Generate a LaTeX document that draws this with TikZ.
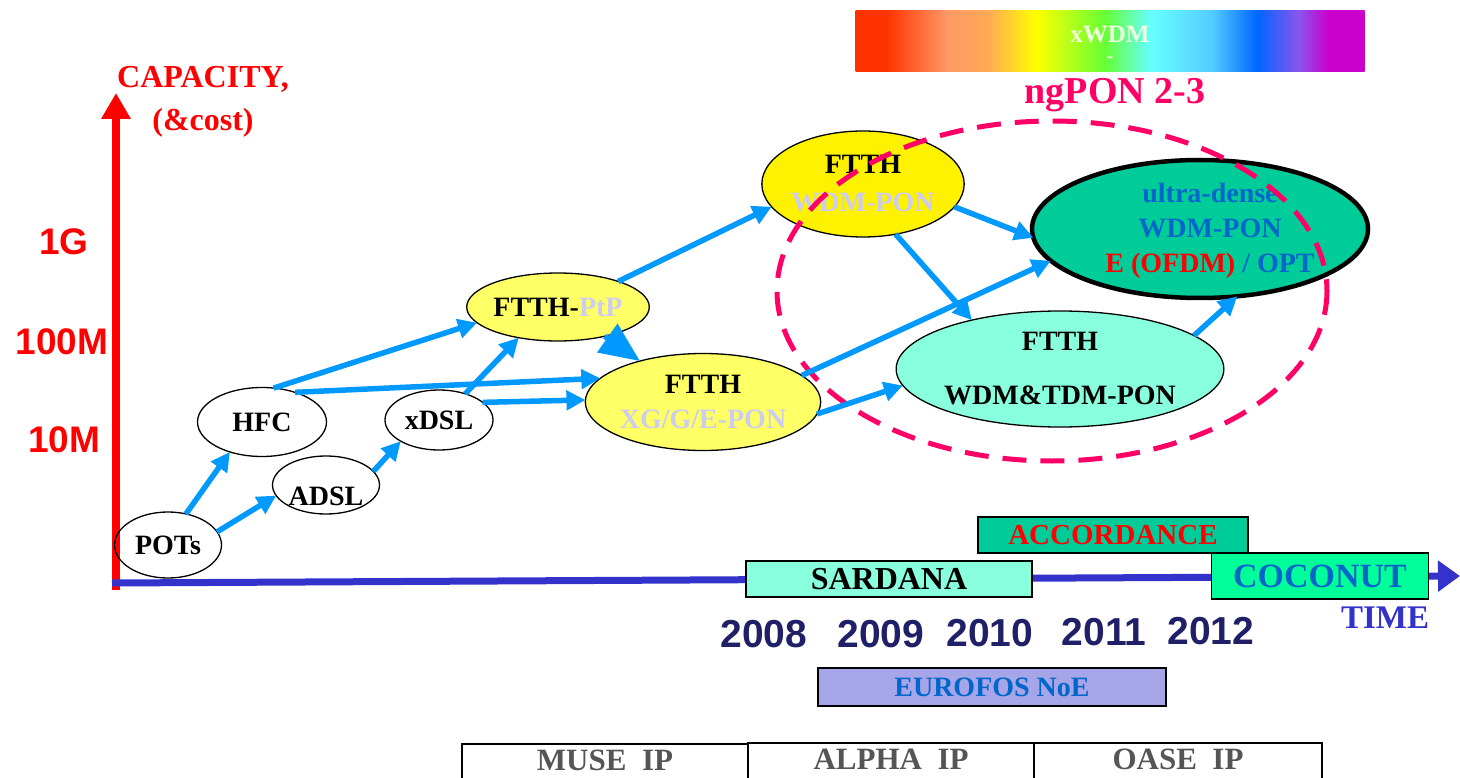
\documentclass[tikz,border=0pt]{standalone}
\usepackage{fontspec}
\setmainfont{Liberation Serif}
\newfontfamily\arialfont{Liberation Sans}
\usepackage{xcolor}
\usetikzlibrary{shapes.geometric,arrows.meta}

\definecolor{capred}{HTML}{FF0000}
\definecolor{timeblue}{HTML}{3333CC}
\definecolor{flowblue}{HTML}{0099FF}
\definecolor{lav}{HTML}{CCCCF0}
\definecolor{paleyellow}{HTML}{FFFF66}
\definecolor{aqua}{HTML}{88FFDD}
\definecolor{seagreen}{HTML}{00CC99}
\definecolor{springgreen}{HTML}{00FF99}
\definecolor{udblue}{HTML}{0066CC}
\definecolor{ngpink}{HTML}{FF0066}
\definecolor{eurofill}{HTML}{A5A5E8}
\definecolor{yearnavy}{HTML}{202068}
\definecolor{textgray}{HTML}{555555}
\definecolor{xwdmtext}{HTML}{EEFFE0}
% spectrum of the xWDM bar
\definecolor{wred}{HTML}{FF3300}
\definecolor{wsalmon}{HTML}{FF9966}
\definecolor{worange}{HTML}{FFAA55}
\definecolor{wyellow}{HTML}{FFFF00}
\definecolor{wgreen}{HTML}{66FF33}
\definecolor{wcyan}{HTML}{66FFFF}
\definecolor{wsky}{HTML}{55CCFF}
\definecolor{wblue}{HTML}{0066FF}
\definecolor{wviolet}{HTML}{8855EE}
\definecolor{wmagenta}{HTML}{CC00CC}
\pgfdeclarehorizontalshading{xwdmshade}{100bp}{color(0bp)=(wred); color(25bp)=(wred); color(28bp)=(wred); color(34bp)=(wsalmon); color(38bp)=(worange); color(42.75bp)=(wyellow); color(49.5bp)=(wgreen); color(54bp)=(wcyan); color(60bp)=(wsky); color(64.5bp)=(wblue); color(68.5bp)=(wviolet); color(71.5bp)=(wmagenta); color(100bp)=(wmagenta)}

\newcommand\techfont{\fontsize{28}{35}\selectfont\bfseries}

\begin{document}
\begin{tikzpicture}[x=1pt, y=-1pt,
    tech/.style={ellipse, draw, line width=1.3pt, inner sep=0pt, outer sep=0pt, align=center, font=\techfont},
    flow/.style={-{Triangle[length=19pt, width=19pt]}, line width=5.5pt, draw=flowblue},
    project/.style={rectangle, draw, line width=1.6pt, inner sep=0pt, font=\bfseries\fontsize{#1}{#1}\selectfont},
    axislabel/.style={text=capred, font=\arialfont\bfseries\fontsize{37}{37}\selectfont},
    year/.style={text=yearnavy, font=\arialfont\bfseries\fontsize{39}{39}\selectfont}
]
\useasboundingbox (0,0) rectangle (1460,778);
\clip (0,0) rectangle (1460,778);

% Axes
\coordinate (capbase) at (116,590);
\coordinate (captip) at (116,93);
\coordinate (timebase) at (112,583);
\coordinate (timetip) at (1460,576);
\draw[capred, line width=8pt, -{Triangle[length=26pt, width=28pt]}] (capbase) -- (captip);
\draw[timeblue, line width=7pt, -{Triangle[length=22pt, width=30pt]}] (timebase) -- (timetip);

\node[text=capred, font=\bfseries\fontsize{32}{43}\selectfont, align=center] (capacity) at (203,102) {CAPACITY,\\(\&cost)};
\node[axislabel] (l1g) at (64,242) {1G};
\node[axislabel] (l100m) at (62,342) {100M};
\node[axislabel] (l10m) at (64,440) {10M};

% xWDM band
\node[shade, shading=xwdmshade, minimum width=509pt, minimum height=61pt, inner sep=0pt,
      label={[text=xwdmtext, font=\bfseries\fontsize{25}{25}\selectfont, align=center, yshift=-3pt]center:xWDM\\[-5pt]{\fontsize{20}{20}\selectfont -}}] (xwdm) at (1110,41.5) {};
\node[text=ngpink, font=\bfseries\fontsize{38}{38}\selectfont] (ngpon) at (1115,95) {ngPON 2-3};

% Technologies
\node[tech, minimum width=107pt, minimum height=66pt] (pots) at (168,545) {POTs};
\node[tech, minimum width=129pt, minimum height=69pt] (hfc) at (262,422) {HFC};
\node[tech, minimum width=107pt, minimum height=58pt, label={[font=\techfont, yshift=-11pt]center:ADSL}] (adsl) at (326,485) {};
\node[tech, minimum width=108pt, minimum height=60pt] (xdsl) at (439,420) {xDSL};
\node[tech, fill=paleyellow, minimum width=170pt, minimum height=68pt] (ptp) at (558,307) {FTTH-\textcolor{lav}{PtP}};
\node[tech, fill=paleyellow, minimum width=231pt, minimum height=97pt] (xg) at (703,402) {FTTH\\\textcolor{lav}{XG/G/E-PON}};
\node[tech, fill=yellow, minimum width=193pt, minimum height=106pt] (wdmpon) at (863,184) {FTTH\\[3pt]\textcolor{lav}{WDM-PON}};
\node[tech, fill=aqua, minimum width=309pt, minimum height=116pt] (hybrid) at (1060,369) {FTTH\\[19pt]WDM\&TDM-PON};
\node[tech, fill=seagreen, line width=4.5pt, minimum width=336pt, minimum height=138pt,
      label={[font=\techfont, text=udblue, align=center, xshift=10pt, yshift=-2pt]center:ultra-dense\\WDM-PON\\\textcolor{capred}{E (OFDM)} / OPT}] (udwdm) at (1200,229) {};

% ngPON 2-3 region
\draw[ngpink, line width=5pt, dash pattern=on 24pt off 14pt] (1052,291) ellipse [x radius=275, y radius=170];

% Evolution paths
\draw[flow] (pots.60) -- (hfc.-137);
\draw[flow] (pots.15) -- (adsl.-168);
\draw[flow] (adsl.16) -- (xdsl.-151);
\draw[flow] (hfc.71) -- (ptp.-169);
\draw[flow] (hfc.42) -- (xg.167);
\draw[flow] (xdsl.45) -- (ptp.-142);
\draw[flow] (xdsl.22) -- (xg.179);
\draw[flow, -{Triangle[length=40pt, width=34pt]}] (ptp.-32) -- (xg.147);
\draw[flow] (ptp.23) -- (wdmpon.-166);
\draw[flow] (xg.15) -- (udwdm.-168);
\draw[flow] (xg.-6) -- (hybrid.-174);
\draw[flow] (wdmpon.-14) -- (udwdm.-177);
\draw[flow] (wdmpon.-57) -- (hybrid.151);
\draw[flow] (hybrid.14) -- (udwdm.-61);

% Projects on the time line
\node[project=29, fill=seagreen, text=capred, minimum width=270pt, minimum height=36pt] (accordance) at (1113,535) {ACCORDANCE};
\node[project=32, fill=aqua, minimum width=286pt, minimum height=36pt] (sardana) at (889,579) {SARDANA};
\node[project=34, fill=springgreen, text=udblue, minimum width=217pt, minimum height=46pt] (coconut) at (1320,576) {COCONUT};
\node[text=timeblue, font=\bfseries\fontsize{33}{33}\selectfont] (time) at (1385,618) {TIME};

\foreach \yr/\xpos/\ypos in {2008/764/634, 2009/881/634, 2010/990/633, 2011/1104/632, 2012/1211/631}
  \node[year] (y\yr) at (\xpos,\ypos) {\yr};

\node[project=28, fill=eurofill, text=udblue, minimum width=348pt, minimum height=38pt] (eurofos) at (992,687) {EUROFOS NoE};

% Integrated projects
\node[project=31, text=textgray, anchor=north, minimum width=286pt, text height=21pt, text depth=10pt, inner ysep=6pt] (muse) at (605,743) {MUSE~~IP};
\node[project=31, text=textgray, anchor=north, minimum width=286pt, text height=21pt, text depth=10pt, inner ysep=6pt] (alpha) at (891,742) {ALPHA~~IP};
\node[project=31, text=textgray, anchor=north, minimum width=288pt, text height=21pt, text depth=10pt, inner ysep=6pt] (oase) at (1178,742) {OASE~~IP};

\end{tikzpicture}
\end{document}
